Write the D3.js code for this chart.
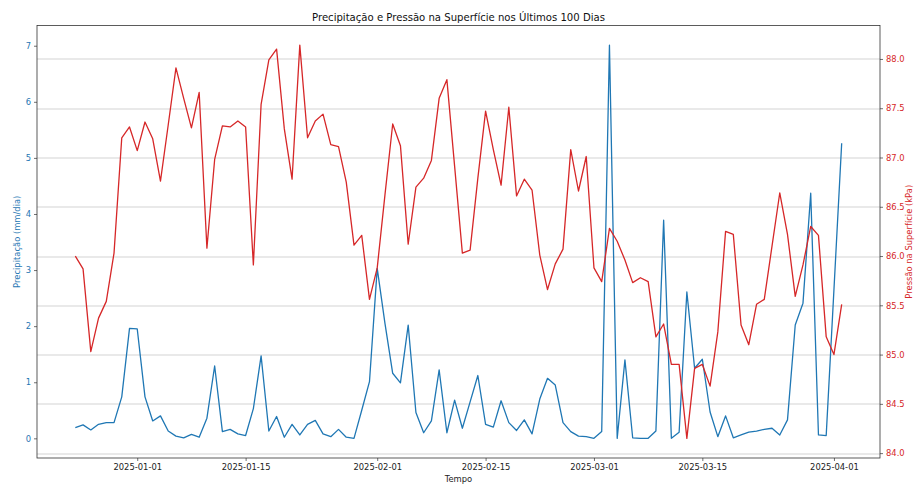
<!DOCTYPE html>
<html>
<head>
<meta charset="utf-8">
<script src="https://cdn.jsdelivr.net/npm/d3@7"></script>
<style>
  body { margin: 0; background: #fff; }
  text { font-family: "DejaVu Sans", sans-serif; }
</style>
</head>
<body>
<div id="chart"></div>
<script>
// first day of the 100-day window
var startDate = "2024-12-24";

var precipitation = [
  0.19, 0.24, 0.15, 0.25, 0.28, 0.28, 0.74, 1.96, 1.95, 0.74,
  0.31, 0.40, 0.13, 0.04, 0.01, 0.07, 0.02, 0.36, 1.29, 0.12,
  0.16, 0.08, 0.05, 0.53, 1.47, 0.13, 0.39, 0.02, 0.25, 0.06,
  0.25, 0.32, 0.08, 0.03, 0.16, 0.02, 0.00, 0.50, 1.01, 3.03,
  2.05, 1.16, 0.99, 2.02, 0.46, 0.10, 0.31, 1.22, 0.10, 0.68,
  0.18, 0.65, 1.12, 0.25, 0.20, 0.67, 0.28, 0.14, 0.33, 0.08,
  0.70, 1.07, 0.95, 0.28, 0.12, 0.04, 0.03, 0.00, 0.12, 7.01,
  0.00, 1.40, 0.01, 0.00, 0.00, 0.13, 3.89, 0.00, 0.11, 2.61,
  1.25, 1.41, 0.47, 0.03, 0.40, 0.01, 0.06, 0.11, 0.13, 0.16,
  0.18, 0.06, 0.33, 2.02, 2.41, 4.37, 0.06, 0.05, 2.65, 5.26
];

var pressure = [
  86.00, 85.87, 85.03, 85.37, 85.54, 86.03, 87.20, 87.31, 87.07, 87.36,
  87.19, 86.76, 87.33, 87.91, 87.60, 87.30, 87.66, 86.08, 86.98, 87.32,
  87.31, 87.37, 87.31, 85.91, 87.54, 87.99, 88.10, 87.29, 86.78, 88.14,
  87.20, 87.37, 87.44, 87.13, 87.11, 86.75, 86.11, 86.21, 85.56, 85.88,
  86.62, 87.34, 87.12, 86.12, 86.70, 86.79, 86.97, 87.60, 87.79, 86.91,
  86.03, 86.06, 86.79, 87.47, 87.08, 86.72, 87.51, 86.61, 86.78, 86.67,
  86.01, 85.66, 85.92, 86.07, 87.08, 86.66, 87.01, 85.88, 85.74, 86.28,
  86.15, 85.96, 85.73, 85.78, 85.74, 85.18, 85.31, 84.90, 84.90, 84.15,
  84.86, 84.90, 84.68, 85.23, 86.25, 86.22, 85.30, 85.10, 85.51, 85.56,
  86.10, 86.64, 86.22, 85.59, 85.91, 86.30, 86.21, 85.18, 85.00, 85.51
];

var dateTicks = ["2025-01-01", "2025-01-15", "2025-02-01", "2025-02-15", "2025-03-01", "2025-03-15", "2025-04-01"];
var precipTicks = [0, 1, 2, 3, 4, 5, 6, 7];
var pressureTicks = [84.0, 84.5, 85.0, 85.5, 86.0, 86.5, 87.0, 87.5, 88.0];

var blue = "#1f77b4",
    red = "#d62728";

var margin = {top: 25.5, right: 35, bottom: 26, left: 37},
    width = 915 - margin.left - margin.right,
    height = 484 - margin.top - margin.bottom;

var parse = d3.utcParse("%Y-%m-%d");
var t0 = parse(startDate);
var dates = precipitation.map(function(d, i) { return d3.utcDay.offset(t0, i); });

// matplotlib-like 5% padding on every axis
function padded(ext) {
    var m = (ext[1] - ext[0]) * 0.05;
    return [ext[0] - m, ext[1] + m];
}

var xPad = (dates[dates.length - 1] - dates[0]) * 0.05;
var x = d3.scaleUtc()
    .domain([new Date(+dates[0] - xPad), new Date(+dates[dates.length - 1] + xPad)])
    .range([0, width]);

var yL = d3.scaleLinear()
    .domain(padded(d3.extent(precipitation)))
    .range([height, 0]);

var yR = d3.scaleLinear()
    .domain(padded(d3.extent(pressure)))
    .range([height, 0]);

var svg = d3.select("#chart").append("svg")
    .attr("width", 915)
    .attr("height", 484)
  .append("g")
    .attr("transform", "translate(" + margin.left + "," + margin.top + ")");

// horizontal grid from the pressure axis
svg.append("g")
    .selectAll("line")
    .data(pressureTicks)
  .enter().append("line")
    .attr("x1", 0)
    .attr("x2", width)
    .attr("y1", function(d) { return Math.round(yR(d)) + 0.5; })
    .attr("y2", function(d) { return Math.round(yR(d)) + 0.5; })
    .attr("stroke", "#d3d3d3")
    .attr("stroke-width", 1);

var lineP = d3.line()
    .x(function(d, i) { return x(dates[i]); })
    .y(function(d) { return yL(d); });

var lineR = d3.line()
    .x(function(d, i) { return x(dates[i]); })
    .y(function(d) { return yR(d); });

svg.append("path")
    .datum(precipitation)
    .attr("d", lineP)
    .attr("fill", "none")
    .attr("stroke", blue)
    .attr("stroke-width", 1.3)
    .attr("stroke-linejoin", "round");

svg.append("path")
    .datum(pressure)
    .attr("d", lineR)
    .attr("fill", "none")
    .attr("stroke", red)
    .attr("stroke-width", 1.3)
    .attr("stroke-linejoin", "round");

// axes
var fmtDate = d3.utcFormat("%Y-%m-%d");

var xAxis = svg.append("g")
    .attr("transform", "translate(0," + height + ")")
    .call(d3.axisBottom(x)
        .tickValues(dateTicks.map(parse))
        .tickFormat(fmtDate)
        .tickSize(3)
        .tickPadding(3)
        .tickSizeOuter(0));

var yAxisL = svg.append("g")
    .call(d3.axisLeft(yL)
        .tickValues(precipTicks)
        .tickFormat(d3.format("d"))
        .tickSize(3)
        .tickPadding(3)
        .tickSizeOuter(0));

var yAxisR = svg.append("g")
    .attr("transform", "translate(" + width + ",0)")
    .call(d3.axisRight(yR)
        .tickValues(pressureTicks)
        .tickFormat(d3.format(".1f"))
        .tickSize(3)
        .tickPadding(3)
        .tickSizeOuter(0));

[xAxis, yAxisL, yAxisR].forEach(function(g) {
    g.select(".domain").remove();
    g.selectAll("text").style("font-family", "DejaVu Sans").attr("font-size", 8.4);
    g.selectAll("line").attr("stroke", "#333").attr("stroke-width", 0.7);
});
xAxis.selectAll("text").attr("fill", "#222");
yAxisL.selectAll("text").attr("fill", blue);
yAxisR.selectAll("text").attr("fill", red);

// frame
svg.append("rect")
    .attr("x", 0)
    .attr("y", 0)
    .attr("width", width)
    .attr("height", height)
    .attr("fill", "none")
    .attr("stroke", "#333")
    .attr("stroke-width", 0.8);

// labels
svg.append("text")
    .attr("x", width / 2)
    .attr("y", -5)
    .attr("text-anchor", "middle")
    .attr("font-size", 10.1)
    .attr("fill", "#111")
    .text("Precipitação e Pressão na Superfície nos Últimos 100 Dias");

svg.append("text")
    .attr("x", width / 2)
    .attr("y", height + 24)
    .attr("text-anchor", "middle")
    .attr("font-size", 8.4)
    .attr("fill", "#222")
    .text("Tempo");

svg.append("text")
    .attr("transform", "translate(" + (-17.5) + "," + (height / 2) + ") rotate(-90)")
    .attr("text-anchor", "middle")
    .attr("font-size", 8.4)
    .attr("fill", blue)
    .text("Precipitação (mm/dia)");

svg.append("text")
    .attr("transform", "translate(" + (width + 32) + "," + (height / 2) + ") rotate(-90)")
    .attr("text-anchor", "middle")
    .attr("font-size", 8.4)
    .attr("fill", red)
    .text("Pressão na Superfície (kPa)");
</script>
</body>
</html>
